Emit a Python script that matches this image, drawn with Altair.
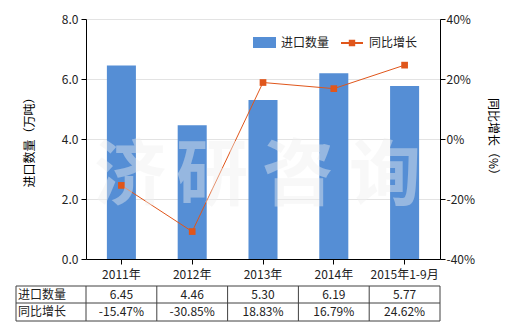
import altair as alt
import pandas as pd

categories = ["2011年", "2012年", "2013年", "2014年", "2015年1-9月"]
qty = [6.45, 4.46, 5.30, 6.19, 5.77]
growth = [-15.47, -30.85, 18.83, 16.79, 24.62]
row_labels = ["进口数量", "同比增长"]
watermark_chars = ["济", "研", "咨", "询"]

BLUE = "#558ED5"
ORANGE = "#E0561B"
FONT = "Noto Sans CJK SC"
W, H = 354, 240

df = pd.DataFrame({
    "cat": categories,
    "qty": qty,
    "growth": growth,
    "qty_label": [f"{v:.2f}" for v in qty],
    "growth_label": [f"{v:.2f}%" for v in growth],
    "s1": [row_labels[0]] * len(categories),
    "s2": [row_labels[1]] * len(categories),
})

xenc = alt.X("cat:N", sort=categories, title=None,
             scale=alt.Scale(paddingInner=0, paddingOuter=0),
             axis=alt.Axis(labelAngle=0, domainColor="#000", tickColor="#000",
                           tickSize=5, labelPadding=5, labelFontSize=12,
                           labelColor="#222", grid=False))

base = alt.Chart(df)

bars = base.mark_bar(width=alt.RelativeBandSize(0.41)).encode(
    x=xenc,
    y=alt.Y("qty:Q", scale=alt.Scale(domain=[0, 8]),
            axis=alt.Axis(values=[0, 2, 4, 6, 8], format=".1f", title="进口数量（万吨）",
                          titleAngle=-90, titleX=-57, titleY=H / 2, titleAlign="center",
                          titleBaseline="middle", titleFontWeight="normal", titleFontSize=12,
                          domainColor="#000", tickColor="#000", tickSize=5, labelPadding=3,
                          labelFontSize=12, labelColor="#222", grid=True, gridColor="#e3e3e3")),
    color=alt.Color("s1:N", scale=alt.Scale(domain=[row_labels[0]], range=[BLUE]),
                    legend=alt.Legend(title=None, orient="none", legendX=167, legendY=12,
                                      symbolType="M-1,-0.48H1V0.48H-1Z", symbolSize=529,
                                      labelFontSize=12, labelColor="#222", padding=0,
                                      labelOffset=5, symbolStrokeWidth=0)),
)

yg = alt.Y("growth:Q", scale=alt.Scale(domain=[-40, 40]),
           axis=alt.Axis(orient="right", values=[-40, -20, 0, 20, 40],
                         labelExpr="datum.value + '%'", title="同比增长（%）",
                         titleAngle=90, titleX=52, titleY=H / 2, titleAlign="center",
                         titleBaseline="middle", titleFontWeight="normal", titleFontSize=12,
                         domainColor="#000", tickColor="#000", tickSize=5, labelPadding=1,
                         labelFontSize=12, labelColor="#222", grid=False))

line = base.mark_line(strokeWidth=1).encode(
    x=xenc, y=yg,
    stroke=alt.Stroke("s2:N", scale=alt.Scale(domain=[row_labels[1]], range=[ORANGE]),
                      legend=alt.Legend(title=None, orient="none", legendX=254, legendY=12,
                                        symbolType="M-1,0H1M-0.2,-0.2H0.2V0.2H-0.2Z",
                                        symbolSize=484, symbolStrokeWidth=2,
                                        symbolFillColor=ORANGE,
                                        labelFontSize=12, labelColor="#222", padding=0,
                                        labelOffset=5)),
)
points = base.mark_point(shape="square", filled=True, size=45, opacity=1, color=ORANGE).encode(
    x=xenc, y=yg)

wm_layers = [
    alt.Chart(pd.DataFrame({"t": [ch]})).mark_text(
        font=FONT, fontSize=72, fontWeight="bold", color="#f0f0f0", opacity=0.42,
        align="center", baseline="middle").encode(
        text="t:N", x=alt.value(xx), y=alt.value(158))
    for ch, xx in zip(watermark_chars, [44, 126, 212, 299])
]

# table
t1 = base.mark_text(fontSize=12, color="#222", baseline="middle").encode(
    x=xenc, y=alt.value(276), text="qty_label:N")
t2 = base.mark_text(fontSize=12, color="#222", baseline="middle").encode(
    x=xenc, y=alt.value(293), text="growth_label:N")
rl1 = alt.Chart(pd.DataFrame({"r": [row_labels[0]]})).mark_text(
    fontSize=12, color="#222", align="left", baseline="middle").encode(
    text="r:N", x=alt.value(-68), y=alt.value(276))
rl2 = alt.Chart(pd.DataFrame({"r": [row_labels[1]]})).mark_text(
    fontSize=12, color="#222", align="left", baseline="middle").encode(
    text="r:N", x=alt.value(-68), y=alt.value(293))

vlines = base.mark_rule(color="#404040", strokeWidth=1).encode(
    x=alt.X("cat:N", sort=categories, bandPosition=0), y=alt.value(267), y2=alt.value(302))
vl_left = alt.Chart(pd.DataFrame({"k": ["l"]})).mark_rule(color="#404040").encode(
    x=alt.value(-70), y=alt.value(267), y2=alt.value(302))
vl_right = alt.Chart(pd.DataFrame({"k": ["r"]})).mark_rule(color="#404040").encode(
    x=alt.value(W), y=alt.value(267), y2=alt.value(302))
hl = [alt.Chart(pd.DataFrame({"k": [i]})).mark_rule(color="#404040").encode(
    x=alt.value(-70), x2=alt.value(W), y=alt.value(yy)) for i, yy in enumerate([267, 284, 302])]

main = alt.layer(bars, alt.layer(line, points)).resolve_scale(y="independent")

chart = alt.layer(main, *wm_layers, t1, t2, rl1, rl2, vlines, vl_left, vl_right, *hl).properties(
    width=W, height=H,
    autosize=alt.AutoSizeParams(type="none"),
    padding={"left": 86, "top": 19, "right": 80, "bottom": 71},
).configure(font=FONT).configure_view(stroke=None)

chart.save("out.html", embed_options={"renderer": "svg", "actions": False})
